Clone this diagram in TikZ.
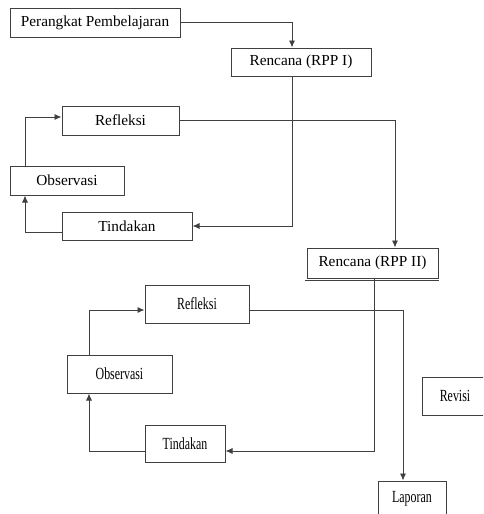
\documentclass[tikz,border=0pt]{standalone}
\usepackage{fontspec}
\setmainfont{Liberation Serif}
\newfontfamily\narrowserif[FakeStretch=0.7]{Liberation Serif}
\usetikzlibrary{arrows.meta}

\tikzset{
  box/.style = {draw=black!75, line width=1pt, fill=white, inner sep=0pt,
                font=\fontsize{15.3}{18}\selectfont},
  narrowbox/.style = {box, font=\fontsize{17}{20}\narrowserif},
  link/.style = {draw=black!75, line width=0.9pt, -{Latex[length=7pt,width=6pt]}},
  plain/.style = {draw=black!75, line width=0.8pt}
}

\begin{document}
\begin{tikzpicture}[x=1pt, y=-1pt]

    \clip (0,0) rectangle (483,514);
    \useasboundingbox (0,0) rectangle (483,514);

    % siklus I
    \begin{scope}

    \node[box, minimum width=170, minimum height=29] (perangkat) at (95,22.5) {Perangkat Pembelajaran};
    \node[box, minimum width=140, minimum height=28] (rpp1) at (301,62) {Rencana (RPP I)};
    \node[box, minimum width=117, minimum height=29] (refleksi1) at (120.5,120.5) {Refleksi};
    \node[box, minimum width=114, minimum height=29] (observasi1) at (67,180.5) {Observasi};
    \node[box, minimum width=130, minimum height=28] (tindakan1) at (127,226) {Tindakan};

    \draw[link] (perangkat.east) -| ([xshift=-9]rpp1.north);
    \draw[link] ([xshift=-9]rpp1.south) |- (tindakan1.east);
    \draw[link] ([yshift=-6]tindakan1.west) -| ([xshift=-42]observasi1.south);
    \draw[link] ([xshift=-42]observasi1.north) |- ([yshift=3.5]refleksi1.west);

    \end{scope}

    % siklus II
    \begin{scope}

    \node[box, minimum width=131, minimum height=30] (rpp2) at (372.5,263) {Rencana (RPP II)};
    \draw[plain, line width=0.6pt] ([xshift=-2, yshift=-2]rpp2.south west) -- ([yshift=-2]rpp2.south east);
    \node[narrowbox, minimum width=104, minimum height=38] (refleksi2) at (197,304) {Refleksi};
    \node[narrowbox, minimum width=105, minimum height=38] (observasi2) at (119.5,374) {Observasi};
    \node[narrowbox, minimum width=80, minimum height=37] (tindakan2) at (185,443.5) {Tindakan};
    \node[narrowbox, minimum width=66, minimum height=38] (revisi) at (455,396) {Revisi};
    \node[narrowbox, minimum width=68, minimum height=36] (laporan) at (412,499) {Laporan};

    \draw[link] (refleksi1.east) -| ([xshift=22.5]rpp2.north);
    \draw[link] ([xshift=1.5]rpp2.south) |- ([yshift=-7.5]tindakan2.east);
    \draw[link] ([yshift=-7.5]tindakan2.west) -| ([xshift=-30.5]observasi2.south);
    \draw[link] ([xshift=-30.5]observasi2.north) |- ([yshift=-6]refleksi2.west);
    \draw[link] ([yshift=-6]refleksi2.east) -| ([xshift=-9]laporan.north);

    \end{scope}

\end{tikzpicture}
\end{document}
